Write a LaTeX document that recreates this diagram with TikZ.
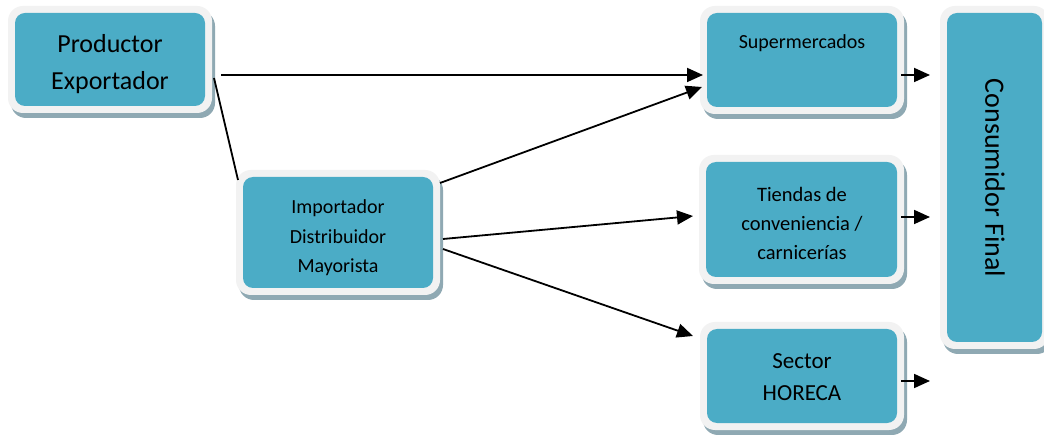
\documentclass[tikz,border=0pt]{standalone}
\usepackage{fontspec}
\setmainfont{Carlito}
\usetikzlibrary{arrows.meta,calc}
\definecolor{tealc}{HTML}{4BACC6}
\definecolor{framec}{HTML}{F2F2F2}
\definecolor{shadowc}{HTML}{8FA9B3}
\newcommand\chanbox[5]{%
  \fill[shadowc, rounded corners=15pt] ({#2-7+3},{#3-7+5}) rectangle ({#4+7+3},{#5+7+5});
  \fill[framec, rounded corners=15pt] ({#2-7},{#3-7}) rectangle ({#4+7},{#5+7});
  \node[boxinner, minimum width={(#4-#2)*1pt}, minimum height={(#5-#3)*1pt}] (#1) at ({(#2+#4)/2},{(#3+#5)/2}) {};
}
\tikzset{
  boxinner/.style={fill=tealc, rounded corners=10pt, inner sep=0pt, outer sep=0pt},
  lbl/.style={align=center, text=black, inner sep=0pt},
  arr/.style={line width=1.8pt, -{Triangle[length=16pt,width=14pt]}},
  ln/.style={line width=1.8pt}
}
\begin{document}
\begin{tikzpicture}[x=1pt,y=-1pt]
\useasboundingbox (0,0) rectangle (1044,435);
\fill[white] (0,0) rectangle (1044,435);
\chanbox{prod}{15}{13}{205}{106}
\chanbox{imp}{243}{177}{433}{288}
\chanbox{super}{707}{13}{897}{107}
\chanbox{tiend}{706}{162}{897}{277}
\chanbox{horeca}{707}{329}{897}{423}
\chanbox{cons}{947}{13}{1042}{342}

\node[lbl, font=\fontsize{26}{37}\selectfont] (tprod) at (110,64) {Productor\\Exportador};
\node[lbl, font=\fontsize{20}{29.5}\selectfont] (timp) at (338,238) {Importador\\Distribuidor\\Mayorista};
\node[lbl, font=\fontsize{20}{24}\selectfont] (tsuper) at (802,43) {Supermercados};
\node[lbl, font=\fontsize{20.5}{29}\selectfont] (ttiend) at (802,223) {Tiendas de\\conveniencia /\\carnicerías};
\node[lbl, font=\fontsize{23}{32}\selectfont] (thoreca) at (802,377) {Sector\\HORECA};
\node[lbl, rotate=-90, font=\fontsize{28}{34}\selectfont] (tcons) at (995,178) {Consumidor Final};

\draw[arr] ([xshift=16pt,yshift=-15.5pt]prod.east) -- ([xshift=-4pt,yshift=-15pt]super.west);
\draw[ln] ([xshift=9pt,yshift=28pt]prod.south east) -- ([xshift=-5pt,yshift=-3pt]imp.north west);
\draw[arr] ([xshift=7pt,yshift=-6pt]imp.north east) -- ([xshift=-5pt,yshift=-27pt]super.west);
\draw[arr] ([xshift=10pt,yshift=-6.5pt]imp.east) -- ([xshift=-13pt,yshift=3.5pt]tiend.west);
\draw[arr] ([xshift=10pt,yshift=-16.5pt]imp.east) -- ([xshift=-14pt,yshift=-7pt]horeca.north west);
\draw[arr] ([xshift=4pt,yshift=-15pt]super.east) -- ++(29,0);
\draw[arr] ([xshift=4pt,yshift=2.5pt]tiend.east) -- ++(29,0);
\draw[arr] ([xshift=4pt,yshift=-5pt]horeca.east) -- ++(29,0);
\end{tikzpicture}
\end{document}
